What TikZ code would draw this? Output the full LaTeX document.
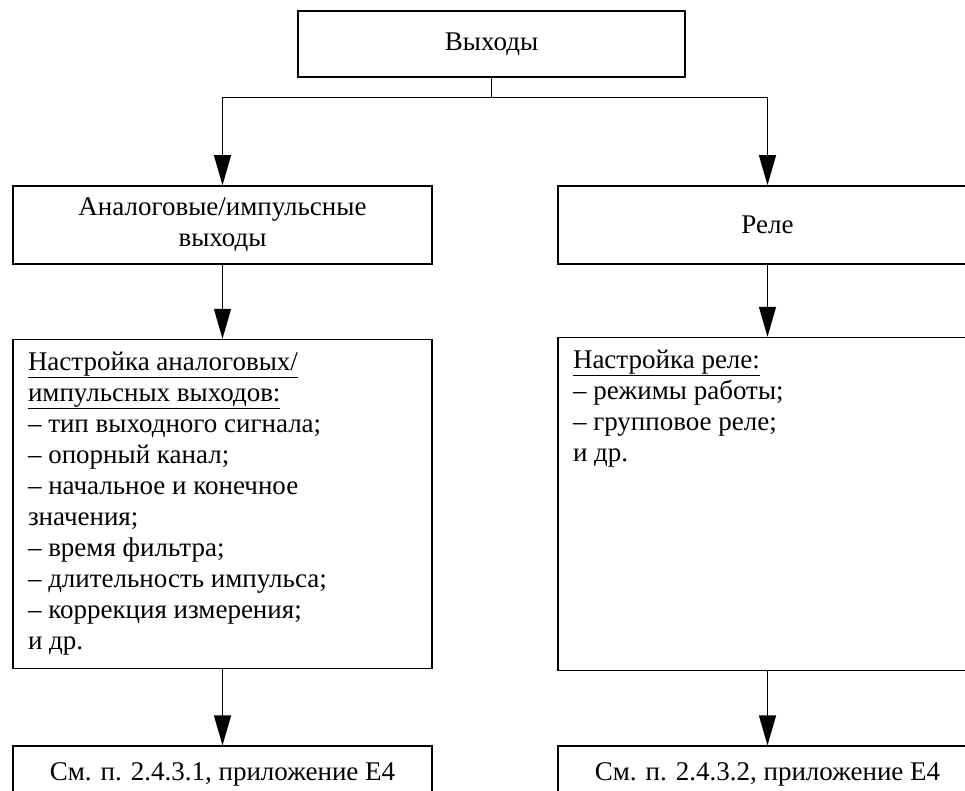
\documentclass[tikz,border=0pt]{standalone}
\usepackage{fontspec}
\setmainfont{Liberation Serif}
\usetikzlibrary{positioning,arrows.meta}

\tikzset{
  block/.style={draw, line width=1.6pt, minimum width=419pt, minimum height=78pt, align=center, inner sep=0pt},
  listbox/.style={draw, line width=1.6pt, inner xsep=15pt, inner ysep=12pt, anchor=north},
  link/.style={line width=1.3pt, -{Triangle[length=30pt,width=17pt]}},
}

\newcommand{\listtext}[2]{\parbox[t][#1][t]{389pt}{\raggedright #2}}

\begin{document}
\begin{tikzpicture}[x=1pt, y=-1pt, font=\fontsize{27}{31}\selectfont]
    \useasboundingbox (0,0) rectangle (965,791);
    \clip (0,0) rectangle (965,791);

    % Nodes
    \node[block, minimum width=387pt, minimum height=66pt] (out) at (491.5,44) {Выходы};
    \node[block] (analog) at (222.5,225) {Аналоговые/импульсные\\выходы};
    \node[block] (relay) at (767.5,225) {Реле};
    \node[listbox, below=74pt of analog] (asetup) {\listtext{305pt}{%
        \underline{Настройка аналоговых/}\\
        \underline{импульсных выходов:}\\
        – тип выходного сигнала;\\
        – опорный канал;\\
        – начальное и конечное\\
        значения;\\
        – время фильтра;\\
        – длительность импульса;\\
        – коррекция измерения;\\
        и др.}};
    \node[listbox, below=72pt of relay] (rsetup) {\listtext{309pt}{%
        \underline{Настройка реле:}\\
        – режимы работы;\\
        – групповое реле;\\
        и др.}};
    \node[block, minimum height=56pt, below=76pt of asetup] (asee) {См. п. 2.4.3.1, приложение Е4};
    \node[block, minimum height=56pt, below=74pt of rsetup] (rsee) {См. п. 2.4.3.2, приложение Е4};

    % Edges
    \draw[line width=1.3pt] (out.south) -- ++(0,20) coordinate (fork);
    \draw[link] (fork) -| (analog.north);
    \draw[link] (fork) -| (relay.north);
    \draw[link] (analog) -- (asetup);
    \draw[link] (relay) -- (rsetup);
    \draw[link] (asetup) -- (asee);
    \draw[link] (rsetup) -- (rsee);
\end{tikzpicture}
\end{document}
